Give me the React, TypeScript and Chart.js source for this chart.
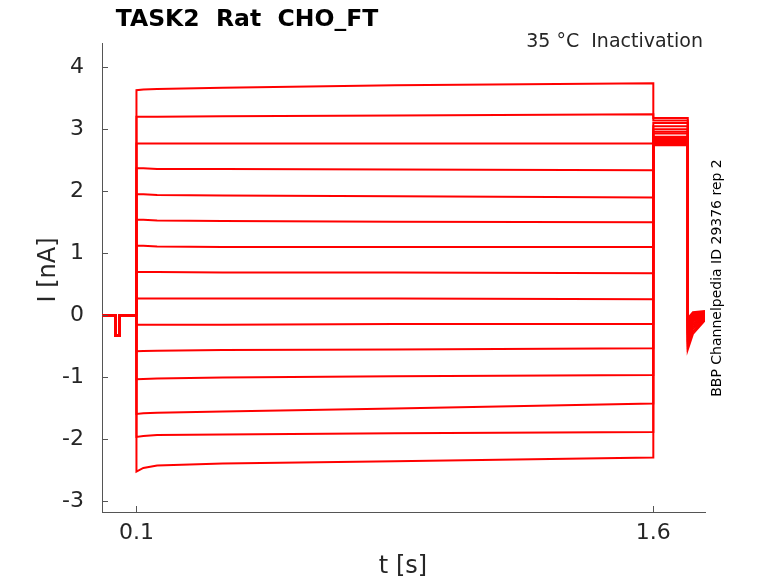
import React, { useEffect, useRef } from "react";
import { Chart, registerables } from "chart.js";

Chart.register(...registerables);

// holding segment before the step (t in s, I in nA)
const baseTimes = [0, 0.039, 0.0395, 0.0505, 0.051, 0.0999];
const baseValues = [0, 0, -0.33, -0.33, 0, 0];

// step segment, read per sweep at these times
const stepTimes = [0.1, 0.12, 0.16, 0.35, 0.85, 1.6];
const levelAt010 = [3.63, 3.2, 2.77, 2.37, 1.95, 1.54, 1.12, 0.7, 0.27, -0.15, -0.58, -1.03, -1.59, -1.96, -2.52];
const levelAt012 = [3.64, 3.2, 2.77, 2.37, 1.95, 1.54, 1.12, 0.7, 0.27, -0.15, -0.575, -1.025, -1.58, -1.945, -2.46];
const levelAt016 = [3.65, 3.2, 2.77, 2.36, 1.94, 1.53, 1.11, 0.7, 0.27, -0.15, -0.57, -1.02, -1.57, -1.93, -2.42];
const levelAt035 = [3.67, 3.21, 2.77, 2.36, 1.93, 1.52, 1.1, 0.69, 0.27, -0.15, -0.56, -1.0, -1.55, -1.92, -2.39];
const levelAt085 = [3.71, 3.22, 2.77, 2.35, 1.92, 1.51, 1.1, 0.69, 0.27, -0.14, -0.55, -0.98, -1.5, -1.9, -2.35];
const levelAt160 = [3.74, 3.24, 2.77, 2.34, 1.9, 1.5, 1.1, 0.68, 0.26, -0.14, -0.53, -0.96, -1.42, -1.88, -2.29];

// test pulse and return to holding
const tailStart = 1.6;
const tailEnd = 1.7;
const tailLevels = [3.18, 3.14, 3.1, 3.05, 3.0, 2.96, 2.93, 2.88, 2.86, 2.84, 2.82, 2.8, 2.78, 2.76, 2.74];
const returnTimes = [1.7, 1.715, 1.75];
const returnDip = [-0.05, -0.08, -0.12, -0.15, -0.18, -0.22, -0.25, -0.28, -0.32, -0.35, -0.38, -0.42, -0.46, -0.5, -0.55];
const returnMid = [0.05, 0.03, 0.02, 0.0, -0.02, -0.04, -0.06, -0.08, -0.1, -0.13, -0.16, -0.19, -0.22, -0.26, -0.3];
const returnEnd = [0.07, 0.06, 0.05, 0.04, 0.03, 0.02, 0.01, 0.0, -0.01, -0.02, -0.03, -0.04, -0.06, -0.07, -0.08];

const xTicks = [0.1, 1.6];
const yTicks = [-3, -2, -1, 0, 1, 2, 3, 4];

const FONT = "'DejaVu Sans', sans-serif";
const TEXT = "#262626";
const AXIS = "#555555";

const decorations = {
  id: "decorations",
  afterDraw(chart: Chart) {
    const { ctx, chartArea, scales } = chart;
    ctx.save();
    ctx.strokeStyle = AXIS;
    ctx.lineWidth = 1;
    yTicks.forEach((v) => {
      const y = Math.round(scales.y.getPixelForValue(v)) + 0.5;
      ctx.beginPath();
      ctx.moveTo(chartArea.left, y);
      ctx.lineTo(chartArea.left + 6, y);
      ctx.stroke();
    });
    xTicks.forEach((v) => {
      const x = Math.round(scales.x.getPixelForValue(v)) + 0.5;
      ctx.beginPath();
      ctx.moveTo(x, chartArea.bottom);
      ctx.lineTo(x, chartArea.bottom - 6);
      ctx.stroke();
    });

    ctx.fillStyle = "#000000";
    ctx.textAlign = "center";
    ctx.textBaseline = "alphabetic";
    ctx.font = `bold 23.5px ${FONT}`;
    ctx.fillText("TASK2  Rat  CHO_FT", 247, 26);

    ctx.fillStyle = TEXT;
    ctx.font = `19px ${FONT}`;
    ctx.textAlign = "right";
    ctx.fillText("35 °C  Inactivation", 703, 47);

    ctx.font = `24px ${FONT}`;
    ctx.textAlign = "center";
    ctx.textBaseline = "middle";
    ctx.fillText("t [s]", 403, 567);

    ctx.save();
    ctx.translate(49, 270);
    ctx.rotate(-Math.PI / 2);
    ctx.fillText("I [nA]", 0, 0);
    ctx.restore();

    ctx.save();
    ctx.fillStyle = "#000000";
    ctx.font = `14px ${FONT}`;
    ctx.translate(717, 278);
    ctx.rotate(-Math.PI / 2);
    ctx.fillText("BBP Channelpedia ID 29376 rep 2", 0, 0);
    ctx.restore();

    ctx.restore();
  },
};

const App: React.FC = () => {
  const canvasRef = useRef<HTMLCanvasElement | null>(null);
  const chartRef = useRef<Chart<"line"> | null>(null);

  useEffect(() => {
    const ctx = canvasRef.current?.getContext("2d");
    if (!ctx) return;

    const stepLevels = [levelAt010, levelAt012, levelAt016, levelAt035, levelAt085, levelAt160];

    const datasets = levelAt010.map((_, i) => {
      const points: { x: number; y: number }[] = [];
      baseTimes.forEach((t, k) => points.push({ x: t, y: baseValues[k] }));
      stepTimes.forEach((t, k) => points.push({ x: t, y: stepLevels[k][i] }));
      points.push({ x: tailStart, y: tailLevels[i] });
      points.push({ x: tailEnd, y: tailLevels[i] });
      points.push({ x: returnTimes[0], y: returnDip[i] });
      points.push({ x: returnTimes[1], y: returnMid[i] });
      points.push({ x: returnTimes[2], y: returnEnd[i] });
      return {
        label: `sweep ${i + 1}`,
        data: points,
        borderColor: "#ff0000",
        borderWidth: 2,
        pointRadius: 0,
        tension: 0,
        fill: false,
      };
    });

    if (chartRef.current) chartRef.current.destroy();

    chartRef.current = new Chart(ctx, {
      type: "line",
      data: { datasets },
      options: {
        responsive: false,
        animation: false,
        devicePixelRatio: 1,
        layout: { padding: { top: 43, right: 73, left: 0, bottom: 0 } },
        plugins: {
          legend: { display: false },
          tooltip: { enabled: false },
          title: { display: false },
        },
        scales: {
          x: {
            type: "linear",
            min: 0,
            max: 1.75,
            afterBuildTicks: (scale) => {
              scale.ticks = xTicks.map((v) => ({ value: v }));
            },
            afterFit: (scale) => {
              scale.height = 71;
            },
            ticks: {
              padding: 8,
              color: TEXT,
              font: { family: FONT, size: 22 },
              maxRotation: 0,
              callback: (v) => String(v),
            },
            grid: { display: true, drawOnChartArea: false, drawTicks: false },
            border: { display: true, color: AXIS, width: 1 },
          },
          y: {
            type: "linear",
            min: -3.17,
            max: 4.39,
            afterBuildTicks: (scale) => {
              scale.ticks = yTicks.map((v) => ({ value: v }));
            },
            afterFit: (scale) => {
              scale.width = 102;
            },
            ticks: {
              padding: 18,
              color: TEXT,
              font: { family: FONT, size: 22 },
              callback: (v) => String(v),
            },
            grid: { display: true, drawOnChartArea: false, drawTicks: false },
            border: { display: true, color: AXIS, width: 1 },
          },
        },
      },
      plugins: [decorations],
    });

    return () => {
      if (chartRef.current) {
        chartRef.current.destroy();
        chartRef.current = null;
      }
    };
  }, []);

  return (
    <div style={{ position: "absolute", left: 0, top: 0, width: 778, height: 583, background: "#ffffff" }}>
      <canvas ref={canvasRef} width={778} height={583}></canvas>
    </div>
  );
};

export default App;
